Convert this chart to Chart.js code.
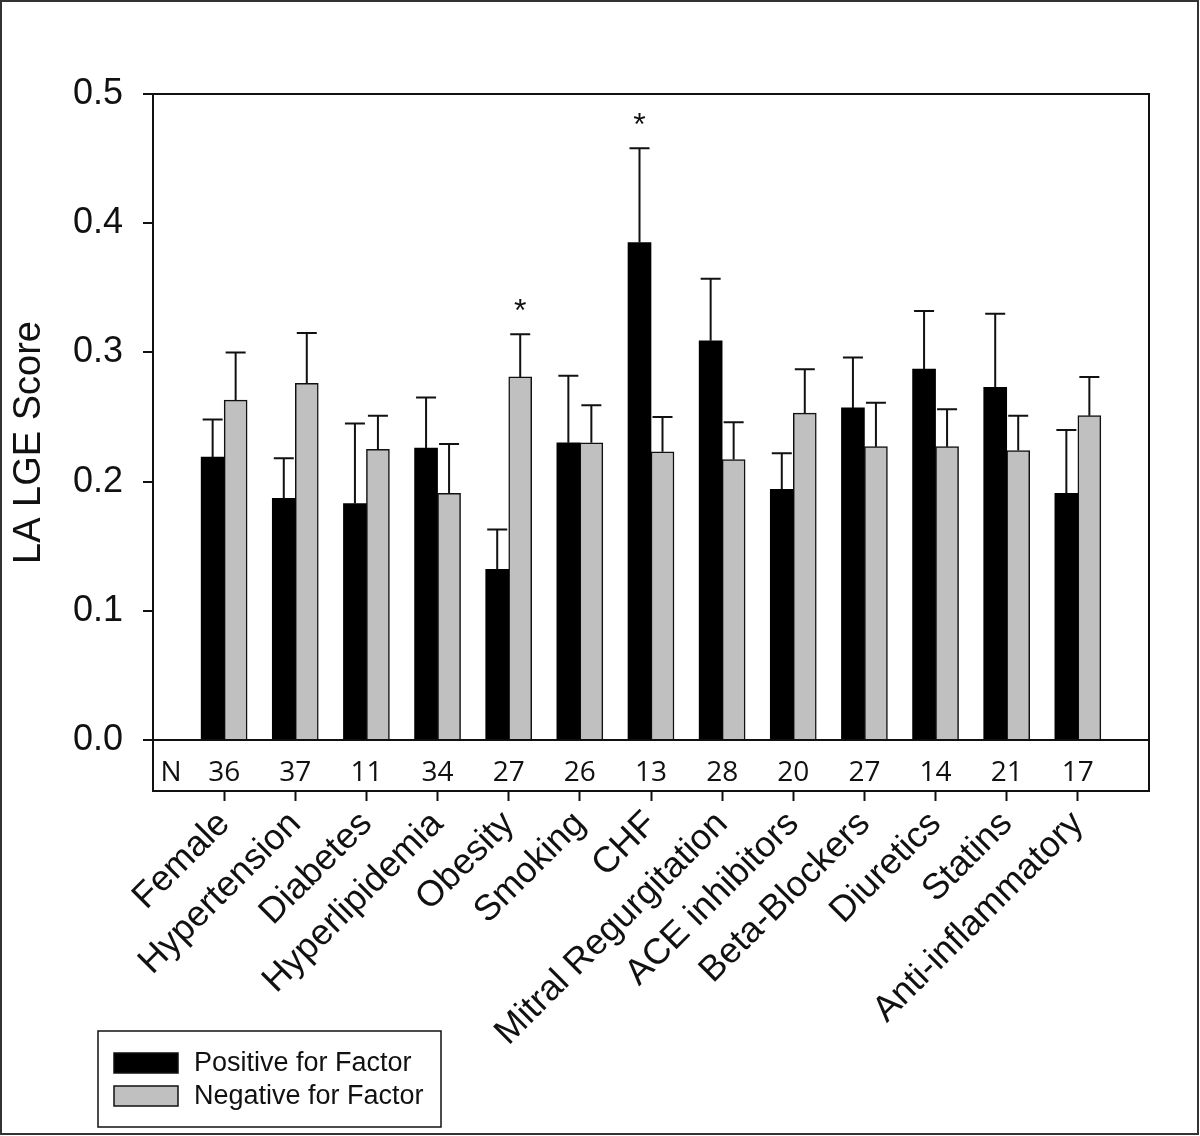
<!DOCTYPE html>
<html>
<head>
<meta charset="utf-8">
<script src="https://cdn.jsdelivr.net/npm/chart.js@4.4.1/dist/chart.umd.min.js"></script>
<style>
  html, body { margin: 0; padding: 0; background: #fff; }
  #wrap { width: 1200px; height: 1136px; }
</style>
</head>
<body>
<div id="wrap"><canvas id="c" width="1200" height="1136"></canvas></div>
<script>
// ---- Data ----
const categories = ['Female', 'Hypertension', 'Diabetes', 'Hyperlipidemia', 'Obesity', 'Smoking', 'CHF',
  'Mitral Regurgitation', 'ACE inhibitors', 'Beta-Blockers', 'Diuretics', 'Statins', 'Anti-inflammatory'];
const positiveMeans = [0.219, 0.187, 0.183, 0.226, 0.132, 0.230, 0.385, 0.309, 0.194, 0.257, 0.287, 0.273, 0.191];
const positiveErrors = [0.029, 0.031, 0.062, 0.039, 0.031, 0.052, 0.073, 0.048, 0.028, 0.039, 0.045, 0.057, 0.049];
const negativeMeans = [0.263, 0.276, 0.225, 0.191, 0.281, 0.230, 0.223, 0.217, 0.253, 0.227, 0.227, 0.224, 0.251];
const negativeErrors = [0.037, 0.039, 0.026, 0.038, 0.033, 0.029, 0.027, 0.029, 0.034, 0.034, 0.029, 0.027, 0.030];
const nCounts = [36, 37, 11, 34, 27, 26, 13, 28, 20, 27, 14, 21, 17];
const positiveSignificant = [false, false, false, false, false, false, true, false, false, false, false, false, false];
const negativeSignificant = [false, false, false, false, true, false, false, false, false, false, false, false, false];
const yTickValues = [0, 0.1, 0.2, 0.3, 0.4, 0.5];
const seriesLabels = ['Positive for Factor', 'Negative for Factor'];

const errorSets = [positiveErrors, negativeErrors];
const sigSets = [positiveSignificant, negativeSignificant];

const decorPlugin = {
  id: 'decor',
  afterDatasetsDraw(chart) {
    const ctx = chart.ctx;
    const ys = chart.scales.y, xs = chart.scales.x;
    ctx.save();
    // error bars + significance marks
    chart.data.datasets.forEach((ds, d) => {
      const meta = chart.getDatasetMeta(d);
      meta.data.forEach((bar, i) => {
        const v = ds.data[i].y;
        const top = ys.getPixelForValue(v);
        const cap = ys.getPixelForValue(v + errorSets[d][i]);
        ctx.strokeStyle = '#111';
        ctx.lineWidth = 2;
        ctx.beginPath();
        ctx.moveTo(bar.x, top);
        ctx.lineTo(bar.x, cap);
        ctx.moveTo(bar.x - 10, cap);
        ctx.lineTo(bar.x + 10, cap);
        ctx.stroke();
        if (sigSets[d][i]) {
          ctx.fillStyle = '#111';
          ctx.font = '32px "Liberation Sans", Arial, sans-serif';
          ctx.textAlign = 'center';
          ctx.textBaseline = 'middle';
          ctx.fillText('*', bar.x, cap - 22);
        }
      });
    });
    // N row
    const nY = (ys.getPixelForValue(0) + chart.chartArea.bottom) / 2 + 8;
    ctx.fillStyle = '#111';
    ctx.font = '28px "Open Sans", sans-serif';
    ctx.textAlign = 'center';
    ctx.textBaseline = 'middle';
    ctx.fillText('N', chart.chartArea.left + 18, nY);
    nCounts.forEach((n, i) => {
      ctx.fillText(String(n), xs.getPixelForValue(i), nY);
    });
    ctx.restore();
  },
  afterDraw(chart) {
    const ctx = chart.ctx;
    const a = chart.chartArea;
    ctx.save();
    ctx.strokeStyle = '#111';
    ctx.lineWidth = 2;
    ctx.strokeRect(a.left, a.top, a.right - a.left, a.bottom - a.top);
    // outer frame
    ctx.strokeStyle = '#333';
    ctx.strokeRect(1, 1, 1197, 1133);
    // legend
    ctx.lineWidth = 1.5;
    ctx.strokeStyle = '#111';
    ctx.strokeRect(98, 1031, 343, 96);
    ctx.font = '27px "Liberation Sans", Arial, sans-serif';
    ctx.textAlign = 'left';
    ctx.textBaseline = 'middle';
    chart.data.datasets.forEach((ds, d) => {
      const yTop = 1053 + d * 33;
      ctx.fillStyle = ds.backgroundColor;
      ctx.fillRect(114, yTop, 64, 20);
      ctx.strokeStyle = '#111';
      ctx.lineWidth = 1.5;
      ctx.strokeRect(114, yTop, 64, 20);
      ctx.fillStyle = '#111';
      ctx.fillText(ds.label, 194, yTop + 11);
    });
    ctx.restore();
  }
};

new Chart(document.getElementById('c'), {
  type: 'bar',
  data: {
    datasets: [
      {
        label: seriesLabels[0],
        data: positiveMeans.map((v, i) => ({ x: i, y: v })),
        backgroundColor: '#000000',
        borderColor: '#000000',
        borderWidth: 0,
        barThickness: 23
      },
      {
        label: seriesLabels[1],
        data: negativeMeans.map((v, i) => ({ x: i, y: v })),
        backgroundColor: '#c0c0c0',
        borderColor: '#111111',
        borderWidth: 1.5,
        borderSkipped: 'bottom',
        barThickness: 23
      }
    ]
  },
  options: {
    responsive: false,
    animation: false,
    devicePixelRatio: 1,
    layout: { padding: { left: 0, right: 51, top: 94, bottom: 0 } },
    plugins: {
      legend: { display: false },
      tooltip: { enabled: false }
    },
    scales: {
      x: {
        type: 'linear',
        min: -1,
        max: 13,
        offset: false,
        afterBuildTicks: (axis) => { axis.ticks = categories.map((c, i) => ({ value: i })); },
        afterFit: (scale) => { scale.height = 345; },
        grid: { offset: false, drawOnChartArea: false, drawTicks: true, tickLength: 10, tickColor: '#111', tickWidth: 2 },
        border: { display: true, color: '#111', width: 2 },
        ticks: {
          autoSkip: false,
          minRotation: 45,
          maxRotation: 45,
          padding: 2,
          color: '#111',
          font: { family: '"Liberation Sans", Arial, sans-serif', size: 36 },
          callback: (value) => categories[value]
        }
      },
      y: {
        min: -0.0395,
        max: 0.5,
        afterBuildTicks: (axis) => { axis.ticks = yTickValues.map(v => ({ value: v })); },
        afterFit: (scale) => { scale.width = 153; },
        grid: {
          drawOnChartArea: true,
          color: (ctx) => (ctx.tick && ctx.tick.value === 0 ? '#111' : 'rgba(0,0,0,0)'),
          lineWidth: 2,
          drawTicks: true,
          tickLength: 10,
          tickColor: '#111',
          tickWidth: 2
        },
        border: { display: true, color: '#111', width: 2 },
        ticks: {
          padding: 20,
          color: '#111',
          font: { family: '"Liberation Sans", Arial, sans-serif', size: 36 },
          callback: (value) => Number(value).toFixed(1)
        },
        title: {
          display: true,
          text: 'LA LGE Score',
          color: '#111',
          padding: { top: 7, bottom: 0 },
          font: { family: '"Liberation Sans", Arial, sans-serif', size: 38 }
        }
      }
    }
  },
  plugins: [decorPlugin]
});
</script>
</body>
</html>
